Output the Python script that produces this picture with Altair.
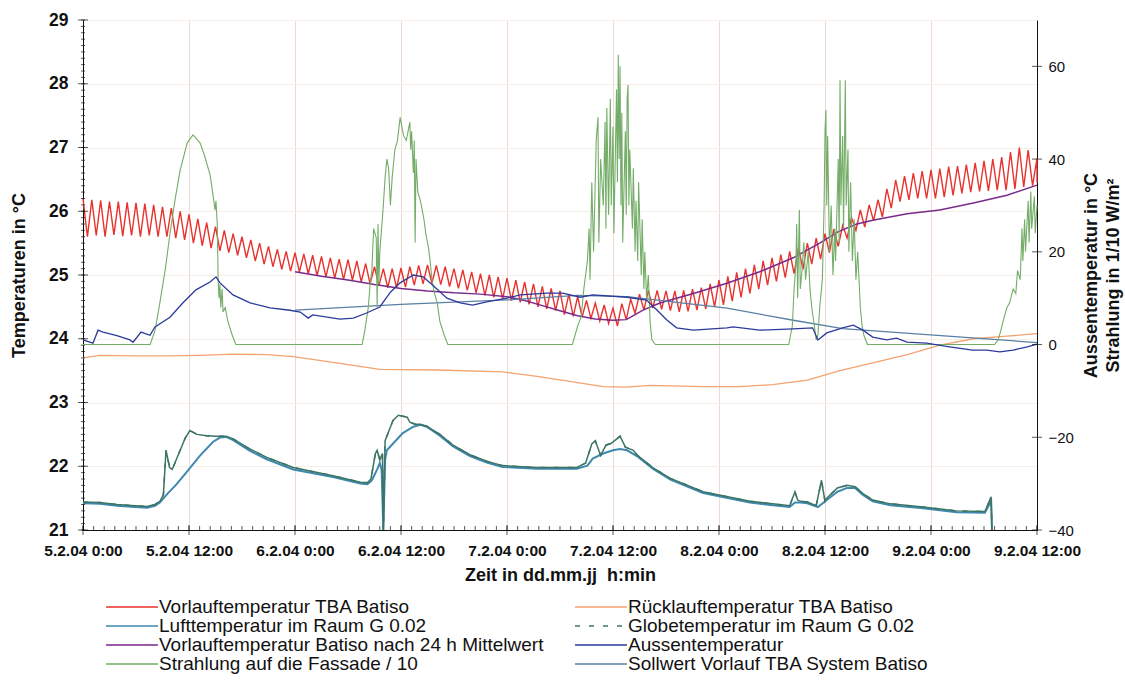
import altair as alt
import pandas as pd

FONT = "Liberation Sans"
INK = "#111111"

# ---------------------------------------------------------------------------
# Series names; the legend fills its two columns top to bottom, so the order
# below gives rows: Vorlauf | Rücklauf, Luft | Globe, Mittelwert | Aussen,
# Strahlung | Sollwert
# ---------------------------------------------------------------------------
S_VOR = "Vorlauftemperatur TBA Batiso"
S_RUECK = "Rücklauftemperatur TBA Batiso"
S_LUFT = "Lufttemperatur im Raum G 0.02"
S_GLOBE = "Globetemperatur im Raum G 0.02"
S_MITTEL = "Vorlauftemperatur Batiso nach 24 h Mittelwert"
S_AUSSEN = "Aussentemperatur"
S_STRAHL = "Strahlung auf die Fassade / 10"
S_SOLL = "Sollwert Vorlauf TBA System Batiso"

series_order = [S_VOR, S_LUFT, S_MITTEL, S_STRAHL, S_RUECK, S_GLOBE, S_AUSSEN, S_SOLL]
series_colors = ["#e8322e", "#3f89b0", "#7a2a8a", "#74ad68",
                 "#f3a36f", "#3c7565", "#2c3a9c", "#5a7fa3"]
series_dashes = [[1, 0], [1, 0], [1, 0], [1, 0], [1, 0], [5, 9], [1, 0], [1, 0]]

# Time in hours since 5.2.04 0:00

# Vorlauftemperatur TBA Batiso: peaks on the full hour (0..108 h) and troughs on the half hour
vorlauf_peaks = [
    26.20, 26.18, 26.17, 26.15, 26.15, 26.14, 26.13, 26.12, 26.10, 26.07, 26.05, 26.00,
    25.95, 25.88, 25.82, 25.76, 25.70, 25.65, 25.60, 25.55, 25.50, 25.45, 25.40, 25.37,
    25.35, 25.33, 25.31, 25.29, 25.27, 25.25, 25.24, 25.22, 25.18, 25.13, 25.10, 25.10,
    25.11, 25.13, 25.15, 25.16, 25.15, 25.13, 25.10, 25.08, 25.05, 25.02, 25.00, 24.97,
    24.95, 24.92, 24.89, 24.86, 24.82, 24.79, 24.75, 24.70, 24.66, 24.60, 24.56, 24.53,
    24.48, 24.55, 24.62, 24.70, 24.76, 24.76, 24.75, 24.75, 24.76, 24.78, 24.80, 24.86,
    24.92, 24.98, 25.04, 25.10, 25.16, 25.22, 25.27, 25.32, 25.37, 25.43, 25.50, 25.58,
    25.65, 25.72, 25.78, 25.90, 26.02, 26.10, 26.18, 26.35, 26.49, 26.55, 26.60, 26.63,
    26.65, 26.67, 26.70, 26.71, 26.73, 26.76, 26.79, 26.82, 26.85, 26.93, 27.00, 26.96,
    26.83,
]
vorlauf_troughs = [
    25.60, 25.62, 25.60, 25.63, 25.61, 25.62, 25.60, 25.62, 25.60, 25.60, 25.58, 25.55,
    25.50, 25.46, 25.42, 25.38, 25.35, 25.31, 25.27, 25.22, 25.17, 25.13, 25.09, 25.06,
    25.05, 25.02, 24.99, 24.97, 24.95, 24.93, 24.92, 24.89, 24.86, 24.83, 24.80, 24.80,
    24.81, 24.84, 24.86, 24.87, 24.85, 24.82, 24.79, 24.76, 24.72, 24.68, 24.65, 24.62,
    24.60, 24.57, 24.54, 24.50, 24.47, 24.44, 24.38, 24.35, 24.34, 24.32, 24.28, 24.24,
    24.20, 24.30, 24.40, 24.45, 24.48, 24.46, 24.44, 24.42, 24.43, 24.45, 24.47, 24.50,
    24.53, 24.59, 24.65, 24.71, 24.78, 24.84, 24.90, 24.96, 25.02, 25.09, 25.17, 25.25,
    25.35, 25.45, 25.58, 25.70, 25.75, 25.85, 25.91, 26.05, 26.15, 26.18, 26.20, 26.20,
    26.20, 26.22, 26.25, 26.28, 26.30, 26.31, 26.32, 26.33, 26.33, 26.35, 26.38, 26.40,
]
vorlauf_end = 26.45

# Rücklauftemperatur TBA Batiso
rueck_t = [0, 1.9, 5.7, 9.5, 13.2, 17.0, 20.8, 23.8, 28.3, 33.6, 40.1, 47.5, 51.4, 55.1,
           58.9, 61.4, 64.2, 70.2, 74.4, 78.1, 82.0, 85.7, 89.4, 93.3, 97.0, 100.8, 104.6, 108]
rueck_v = [23.70, 23.74, 23.73, 23.73, 23.74, 23.76, 23.75, 23.72, 23.63, 23.52, 23.51, 23.48,
           23.41, 23.33, 23.25, 23.24, 23.27, 23.25, 23.25, 23.28, 23.35, 23.50, 23.62, 23.75,
           23.90, 24.00, 24.04, 24.08]

# Lufttemperatur im Raum G 0.02
luft_t = [0, 1.9, 3.85, 5.9, 7.25, 8.15, 8.7, 9.5, 10.6, 11.8, 13.2, 14.7, 15.5, 16.2, 17.0,
          18.9, 20.8, 23.8, 28.3, 31.4, 32.2, 32.7, 33.3, 33.6, 33.8, 34.0, 34.2, 34.4, 36.2,
          37.4, 38.2, 38.9, 40.4, 41.9, 43.8, 45.7, 47.5, 51.4, 55.9, 57.1, 57.7, 58.9, 60.0,
          60.8, 61.6, 62.7, 64.5, 66.5, 70.2, 75.5, 78.1, 80.0, 80.6, 81.2, 82.0, 83.2, 84.2,
          85.4, 86.5, 87.4, 88.3, 89.4, 91.4, 95.1, 98.9, 102.1, 102.6, 102.8, 102.9]
luft_v = [21.42, 21.41, 21.38, 21.36, 21.35, 21.38, 21.43, 21.56, 21.72, 21.92, 22.16, 22.38,
          22.45, 22.46, 22.41, 22.24, 22.11, 21.95, 21.83, 21.73, 21.72, 21.78, 21.95, 22.05,
          21.95, 21.00, 22.10, 22.25, 22.52, 22.62, 22.65, 22.62, 22.48, 22.31, 22.16, 22.06,
          21.99, 21.96, 21.96, 22.01, 22.12, 22.20, 22.25, 22.27, 22.25, 22.16, 21.96, 21.79,
          21.58, 21.43, 21.39, 21.36, 21.43, 21.43, 21.42, 21.36, 21.47, 21.60, 21.66, 21.66,
          21.55, 21.45, 21.39, 21.34, 21.28, 21.27, 21.40, 21.50, 21.00]

# Globetemperatur im Raum G 0.02
globe_t = [0, 1.9, 3.85, 5.9, 7.25, 8.15, 8.7, 9.1, 9.4, 9.8, 10.1, 11.0, 11.6, 12.1, 12.9,
           14.0, 15.1, 16.2, 17.0, 18.9, 20.8, 23.8, 28.3, 31.4, 32.2, 32.6, 33.1, 33.3, 33.6,
           33.9, 34.0, 34.2, 35.1, 35.7, 36.7, 37.0, 37.6, 38.2, 38.9, 40.4, 41.9, 43.8, 45.7,
           47.5, 51.4, 55.9, 56.9, 57.6, 58.0, 58.6, 59.2, 59.8, 60.8, 61.4, 62.3, 62.7, 64.5,
           66.5, 70.2, 75.5, 78.1, 80.0, 80.6, 80.9, 81.2, 82.0, 83.0, 83.6, 84.0, 84.2, 85.4,
           86.5, 87.4, 88.3, 89.4, 91.4, 95.1, 98.9, 102.1, 102.6, 102.8, 102.9]
globe_v = [21.44, 21.43, 21.40, 21.38, 21.37, 21.40, 21.45, 21.55, 22.25, 21.98, 21.95, 22.25,
           22.45, 22.56, 22.50, 22.48, 22.47, 22.47, 22.43, 22.27, 22.14, 21.98, 21.85, 21.75,
           21.74, 21.80, 22.20, 22.25, 22.10, 22.20, 21.00, 22.40, 22.72, 22.80, 22.77, 22.69,
           22.66, 22.66, 22.63, 22.50, 22.33, 22.18, 22.08, 22.01, 21.98, 21.98, 22.05, 22.35,
           22.40, 22.17, 22.33, 22.36, 22.47, 22.30, 22.25, 22.18, 21.98, 21.81, 21.60, 21.45,
           21.41, 21.38, 21.60, 21.47, 21.45, 21.44, 21.38, 21.78, 21.45, 21.50, 21.66, 21.70,
           21.68, 21.57, 21.47, 21.41, 21.36, 21.30, 21.29, 21.45, 21.52, 21.00]

# Vorlauftemperatur Batiso nach 24 h Mittelwert
mittel_t = [24, 27, 30, 33, 36, 39, 42, 45, 48, 50, 52, 54, 56, 58, 60, 61.5, 63.4, 65.3,
            69.1, 72.9, 76.6, 80.4, 83.4, 85.5, 87.6, 89.4, 93.3, 97.0, 100.8, 104.6, 108]
mittel_v = [25.05, 24.98, 24.92, 24.85, 24.79, 24.75, 24.72, 24.70, 24.66, 24.60, 24.52, 24.44,
            24.36, 24.31, 24.29, 24.30, 24.45, 24.56, 24.71, 24.87, 25.05, 25.27, 25.50, 25.68,
            25.80, 25.86, 25.96, 26.02, 26.13, 26.25, 26.41]

# Sollwert Vorlauf TBA System Batiso
soll_t = [24, 36, 48, 56, 61.6, 72.9, 80.4, 86.0, 108]
soll_v = [24.45, 24.54, 24.61, 24.68, 24.66, 24.48, 24.29, 24.16, 23.94]

# Aussentemperatur (right axis, °C)
aussen_t = [0, 1.13, 1.7, 2.26, 3.74, 5.32, 5.66, 6.57, 7.58, 8.15, 9.85, 11.32, 12.79, 14.38,
            15.06, 15.51, 16.98, 18.91, 21.17, 23.43, 24.6, 25.5, 26.0, 29.1, 30.6, 32.1, 33.6,
            34.8, 35.9, 37.4, 38.5, 39.6, 41.2, 42.7, 44.1, 45.7, 48.0, 49.5, 52.5, 54.3, 56.3,
            57.7, 61.6, 63.8, 65.0, 66.1, 67.2, 69.1, 72.9, 73.6, 76.6, 80.4, 82.6, 83.2, 84.2,
            86.0, 87.2, 88.3, 89.4, 91.0, 92.1, 93.3, 95.5, 98.1, 100.7, 102.3, 103.8, 105.3,
            106.9, 108]
aussen_v = [1.0, 0.3, 3.1, 2.7, 2.0, 1.0, 0.5, 2.7, 2.0, 3.8, 5.9, 9.0, 11.8, 13.5, 14.6, 13.3,
            10.7, 9.0, 7.9, 7.4, 7.0, 5.7, 6.4, 5.5, 5.7, 6.8, 8.1, 11.3, 13.3, 15.0, 14.6, 12.8,
            10.0, 9.0, 8.5, 9.2, 10.0, 10.7, 11.1, 11.1, 10.2, 10.7, 10.2, 9.6, 7.4, 5.3, 3.6,
            3.1, 3.6, 3.8, 3.1, 3.4, 3.6, 1.0, 2.5, 3.6, 4.2, 3.1, 1.6, 1.0, 1.4, 0.5, 0.3, -0.5,
            -1.2, -1.2, -1.6, -1.2, -0.5, 0.1]

# Strahlung auf die Fassade / 10 (right axis, 1/10 W/m²)
strahl_t = [
    0, 7.6, 8.15, 8.7, 9.3, 9.85, 10.4, 11.0, 11.8, 12.45, 13.25, 13.8, 14.4, 14.7, 14.95,
    15.05, 15.2, 15.3, 15.4, 15.5, 15.6, 15.75, 15.85, 16.1, 16.4, 16.9, 17.3,
    31.6, 31.9, 32.3, 32.5, 32.7, 32.9, 33.2, 33.3, 33.4, 33.5, 33.6, 34.0, 34.2, 34.4, 34.6,
    34.8, 35.0, 35.3, 35.6, 35.9, 36.1, 36.3, 36.6, 36.8, 37.0, 37.1, 37.2, 37.4, 37.5, 37.6,
    37.7, 37.9, 38.2, 38.4, 38.6, 38.8, 39.1, 39.3, 39.5, 39.8, 40.1, 40.4, 40.9, 41.3,
    55.4, 55.7, 56.0, 56.4, 56.7, 57.1, 57.3, 57.4, 57.6, 57.8, 58.1, 58.3, 58.4, 58.6, 58.9,
    59.1, 59.2, 59.3, 59.5, 59.7, 59.8, 60.0, 60.1, 60.4, 60.5, 60.6, 60.7, 60.8, 60.9, 61.0,
    61.1, 61.4, 61.5, 61.6, 61.7, 61.8, 61.9, 62.2, 62.3, 62.5, 62.6, 62.8, 62.9, 63.2, 63.3,
    63.5, 63.6, 63.8, 64.0, 64.2, 64.4, 64.8,
    79.9, 80.3, 80.5, 80.7, 80.8, 80.9, 81.1, 81.2, 81.4, 81.6, 81.8, 82.1, 82.3, 82.5, 82.8,
    83.0, 83.2, 83.4, 83.7, 83.9, 84.0, 84.1, 84.2, 84.3, 84.5, 84.7, 84.9, 85.1, 85.2, 85.5,
    85.6, 85.7, 85.8, 86.0, 86.1, 86.3, 86.4, 86.6, 86.7, 86.9, 87.1, 87.3, 87.5, 87.7, 88.0,
    88.2, 88.4, 88.8,
    103.2, 103.6, 103.9, 104.3, 104.6, 104.9, 105.3, 105.6, 105.8, 106.1, 106.3, 106.4, 106.6,
    106.7, 107.0, 107.1, 107.3, 107.4, 107.7, 107.8, 108.0,
]
strahl_v = [
    0, 0, 3, 9, 16, 24, 31, 37.6, 43.5, 45.2, 43.5, 40.5, 36.5, 32.5, 29,
    31, 26, 14, 10, 13, 8, 12, 7, 8, 5, 2, 0,
    0, 3, 8, 13, 16, 25, 23, 8, 26, 13, 20, 30, 36, 40, 38,
    30, 36, 42, 44, 49, 47, 45, 44, 46, 48, 42, 46, 37, 44, 22,
    40, 33, 31, 29, 27, 24, 21, 18, 14, 11, 9, 5, 2, 0,
    0, 2, 4, 6, 12, 18, 25, 14, 35, 20, 44, 49, 22, 40, 30,
    48, 25, 51, 28, 53, 30, 47, 24, 55, 35, 62.5, 40, 60, 30, 50,
    22, 46, 28, 53, 56, 30, 42, 25, 38, 20, 31, 18, 35, 15, 27,
    12, 20, 10, 15, 5, 1, 0,
    0, 4, 12, 17, 26, 10, 29, 12, 16, 22, 14, 20, 12, 8, 4,
    1, 2, 8, 14, 30, 46, 50.6, 30, 45, 20, 30, 15, 25, 18, 40,
    22, 57, 30, 45, 25, 57, 30, 42, 20, 35, 18, 27, 14, 20, 8,
    4, 2, 0,
    0, 1, 3, 6, 8, 9, 12, 11, 16, 14, 25, 18, 27,
    20, 31, 22, 33, 25, 32, 24, 30,
]

# Axis ticks
x_major = list(range(0, 109, 12))
left_values = list(range(21, 30))
right_values = [-40, -20, 0, 20, 40, 60]

# ---------------------------------------------------------------------------
# Tables
# ---------------------------------------------------------------------------
red_t, red_v = [], []
for i in range(len(vorlauf_troughs)):
    red_t += [i, i + 0.5]
    red_v += [vorlauf_peaks[i], vorlauf_troughs[i]]
red_t += [len(vorlauf_troughs), len(vorlauf_troughs)]
red_v += [vorlauf_peaks[-1], vorlauf_end]


def frame(ts, vs, name, col):
    return pd.DataFrame({"t": ts, col: vs, "series": name})


df_vor = frame(red_t, red_v, S_VOR, "L")
df_rueck = frame(rueck_t, rueck_v, S_RUECK, "L")
df_luft = frame(luft_t, luft_v, S_LUFT, "L")
df_globe = frame(globe_t, globe_v, S_GLOBE, "L")
df_mittel = frame(mittel_t, mittel_v, S_MITTEL, "L")
df_soll = frame(soll_t, soll_v, S_SOLL, "L")
df_aussen = frame(aussen_t, aussen_v, S_AUSSEN, "R")
df_strahl = frame(strahl_t, strahl_v, S_STRAHL, "R")

# ---------------------------------------------------------------------------
# Scales, axes, legend
# ---------------------------------------------------------------------------
W, H = 954, 510
x_scale = alt.Scale(domain=[0, 108], nice=False, zero=False)
left_scale = alt.Scale(domain=[21, 29], nice=False, zero=False)
right_scale = alt.Scale(domain=[-40, 70], nice=False, zero=False)

x_axis = alt.Axis(
    values=x_major,
    labelExpr="(5 + floor(datum.value / 24)) + '.2.04 ' + (datum.value % 24) + ':00'",
    title="Zeit in dd.mm.jj\u00a0 h:min",
    ticks=False, grid=True, gridColor="#efd9d6", gridWidth=1,
    domainColor=INK, domainWidth=1,
    labelFont=FONT, labelFontSize=15.5, labelFontWeight="bold", labelColor=INK,
    labelPadding=13, labelFlush=False, labelOverlap=False,
    titleFont=FONT, titleFontSize=18, titleFontWeight="bold", titleColor=INK, titlePadding=8,
)
left_axis = alt.Axis(
    values=left_values, title="Temperaturen in °C",
    ticks=False, grid=True, gridColor="#f7eee8", gridWidth=1,
    domainColor=INK, domainWidth=1,
    labelFont=FONT, labelFontSize=17.5, labelFontWeight="bold", labelColor=INK,
    labelPadding=15, labelFlush=False,
    titleFont=FONT, titleFontSize=18, titleFontWeight="bold", titleColor=INK, titlePadding=20,
)
right_axis = alt.Axis(
    orient="right", values=right_values,
    title=["Aussentemperatur in °C", "Strahlung in 1/10 W/m²"],
    ticks=False, grid=False, domainColor=INK, domainWidth=1,
    labelFont=FONT, labelFontSize=15, labelColor=INK, labelPadding=11, labelFlush=False,
    titleFont=FONT, titleFontSize=18, titleFontWeight="bold", titleColor=INK,
    titleAngle=270, titleBaseline="top", titleAlign="center", titleLineHeight=22,
    titleX=45, titleY=H / 2,
)

legend = alt.Legend(
    title=None, orient="none", legendX=22, legendY=578, padding=0,
    columns=2, columnPadding=30, rowPadding=0, clipHeight=18,
    symbolType="stroke", symbolSize=2700, symbolStrokeWidth=1.5,
    labelFont=FONT, labelFontSize=19, labelColor=INK, labelOffset=0, labelLimit=600,
)

color = alt.Color("series:N", scale=alt.Scale(domain=series_order, range=series_colors),
                  legend=legend)
dash = alt.StrokeDash("series:N", scale=alt.Scale(domain=series_order, range=series_dashes),
                      legend=legend)
x_enc = alt.X("t:Q", scale=x_scale, axis=x_axis)
yl_enc = alt.Y("L:Q", scale=left_scale, axis=left_axis)
yr_enc = alt.Y("R:Q", scale=right_scale, axis=right_axis)


def left_line(df, width=1.3):
    return alt.Chart(df).mark_line(strokeWidth=width).encode(x=x_enc, y=yl_enc, color=color)


def right_line(df, width=1.2):
    return alt.Chart(df).mark_line(strokeWidth=width).encode(x=x_enc, y=yr_enc, color=color)


# Globe temperature: a solid trace, with the dashed style carried for the legend key
globe_dashed = alt.Chart(df_globe).mark_line(strokeWidth=1.5).encode(
    x=x_enc, y=yl_enc, color=color, strokeDash=dash)

# Tick marks crossing the axis lines
tick_style = dict(color=INK, thickness=1)
x_ticks_major = alt.Chart(alt.sequence(0, 109, 12, as_="t")).mark_tick(
    orient="vertical", size=10, **tick_style).encode(x=x_enc, y=alt.value(H))
x_ticks_minor = alt.Chart(alt.sequence(0, 108.01, 1.2, as_="t")).mark_tick(
    orient="vertical", size=5, **tick_style).encode(x=x_enc, y=alt.value(H - 1.5))
yl_ticks_major = alt.Chart(alt.sequence(21, 29.01, 1, as_="L")).mark_tick(
    orient="horizontal", size=10, **tick_style).encode(x=alt.value(0), y=yl_enc)
yl_ticks_minor = alt.Chart(alt.sequence(21, 29.01, 0.1, as_="L")).mark_tick(
    orient="horizontal", size=4, **tick_style).encode(x=alt.value(0), y=yl_enc)
yr_ticks = alt.Chart(alt.sequence(-40, 60.01, 20, as_="R")).mark_tick(
    orient="horizontal", size=10, **tick_style).encode(x=alt.value(W), y=yr_enc)

left_group = alt.layer(
    left_line(df_vor, 1.4),
    left_line(df_rueck, 1.3),
    left_line(df_luft, 2.0),
    left_line(df_globe, 1.5),
    globe_dashed,
    left_line(df_mittel, 1.5),
    left_line(df_soll, 1.3),
    x_ticks_major, x_ticks_minor, yl_ticks_major, yl_ticks_minor,
)
right_group = alt.layer(
    right_line(df_strahl, 1.1),
    right_line(df_aussen, 1.3),
    yr_ticks,
)

chart = (
    alt.layer(left_group, right_group)
    .resolve_scale(y="independent")
    .properties(
        width=W, height=H,
        padding={"left": 83, "top": 20, "right": 88, "bottom": 153},
        autosize=alt.AutoSizeParams(type="none"),
        background="white",
    )
    .configure(font=FONT)
    .configure_view(strokeWidth=0)
)

chart.save("out.html", embed_options={"renderer": "svg", "actions": False})
